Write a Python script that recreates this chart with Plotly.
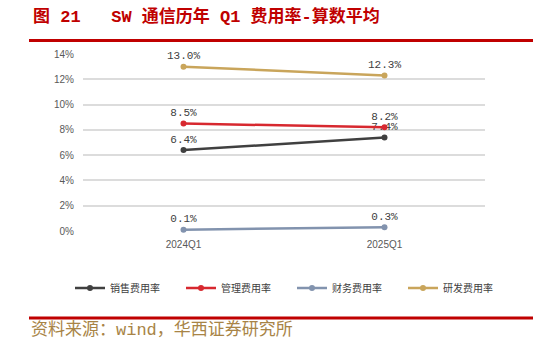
import plotly.graph_objects as go

categories = ["2024Q1", "2025Q1"]
sales_rate = [6.4, 7.4]
admin_rate = [8.5, 8.2]
finance_rate = [0.1, 0.3]
rd_rate = [13.0, 12.3]
series_names = ["销售费用率", "管理费用率", "财务费用率", "研发费用率"]
y_ticks = [0, 2, 4, 6, 8, 10, 12, 14]

W, H = 533, 344
L, R, T, B = 83, 485, 54, 231

def px(x):
    return (x - L) / (R - L)

def py(y):
    return (B - y) / (B - T)

colors = ["#404040", "#D7282F", "#8293AE", "#C9A55B"]
series = [sales_rate, admin_rate, finance_rate, rd_rate]

fig = go.Figure()
for name, vals, c in zip(series_names, series, colors):
    fig.add_trace(go.Scatter(
        x=categories, y=vals, name=name, mode="lines+markers+text",
        line=dict(color=c, width=2.5), marker=dict(color=c, size=6),
        text=[f"{v:.1f}%" for v in vals], textposition="top center",
        textfont=dict(family="Liberation Mono, DejaVu Sans Mono", size=11, color="#404040"),
        cliponaxis=False,
    ))

fig.update_layout(
    width=W, height=H, margin=dict(l=L, r=W - R, t=T, b=H - B),
    paper_bgcolor="white", plot_bgcolor="white",
    showlegend=True,
    legend=dict(orientation="h", x=px(70), xanchor="left", y=py(288), yanchor="middle",
                font=dict(family="Noto Sans CJK SC", size=10, color="#404040"),
                itemwidth=30, tracegroupgap=0, entrywidth=66),
    xaxis=dict(type="category", range=[-0.5, 1.5], showgrid=False, showline=False,
               ticks="", ticklabelstandoff=6,
               tickfont=dict(family="Liberation Sans, Arial", size=10, color="#595959")),
    yaxis=dict(range=[0, 14], tickvals=y_ticks, ticktext=[f"{v}%" for v in y_ticks],
               showgrid=True, gridcolor="#DCDCDC", gridwidth=1.5, zeroline=False,
               ticks="", ticklabelstandoff=8,
               tickfont=dict(family="Liberation Sans, Arial", size=10, color="#595959")),
)

fig.add_annotation(x=px(31), y=py(16), xref="paper", yref="paper", xanchor="left", yanchor="middle",
                   text="<b>图 21   SW 通信历年 Q1 费用率-算数平均</b>", showarrow=False,
                   font=dict(family="Liberation Mono, Noto Sans CJK SC", size=17, color="#C00000"))
fig.add_annotation(x=px(29), y=py(330), xref="paper", yref="paper", xanchor="left", yanchor="middle",
                   text="资料来源：wind，华西证券研究所", showarrow=False,
                   font=dict(family="Liberation Mono, Noto Sans CJK SC", size=17, color="#A88446"))

for yy in (40.5, 318):
    fig.add_shape(type="line", xref="paper", yref="paper", x0=px(29), x1=px(533),
                  y0=py(yy), y1=py(yy), line=dict(color="#C00000", width=3))

fig.write_html("out.html")
